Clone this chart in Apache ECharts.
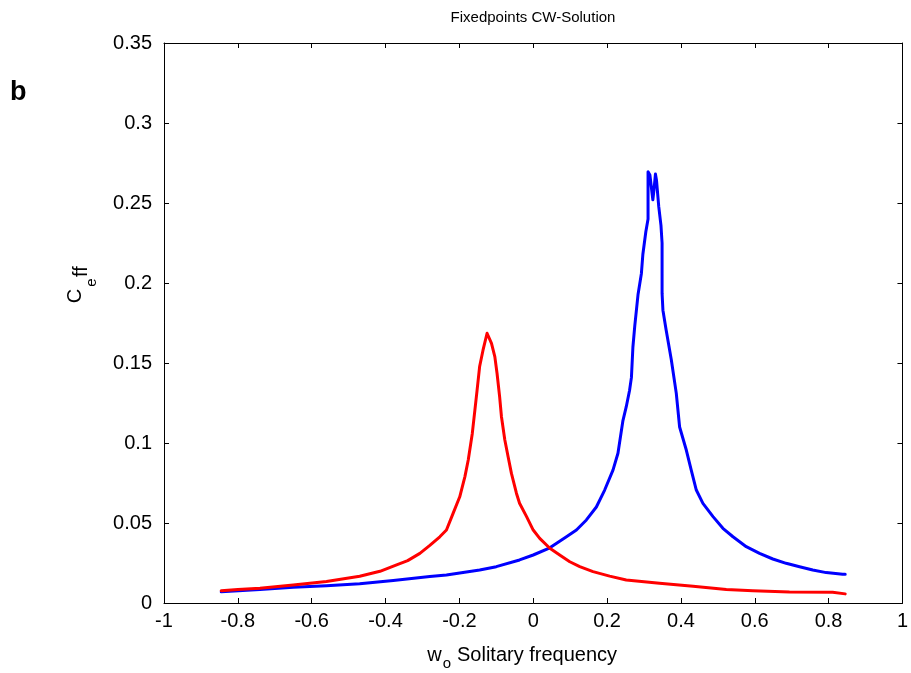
<!DOCTYPE html>
<html>
<head>
<meta charset="utf-8">
<script src="https://cdn.jsdelivr.net/npm/echarts@6/dist/echarts.min.js"></script>
<style>
html,body{margin:0;padding:0;background:#fff;}
#chart{width:911px;height:673px;}
</style>
</head>
<body>
<div id="chart"></div>
<script>
// ---- data ----
var xTickLabels = ['-1','-0.8','-0.6','-0.4','-0.2','0','0.2','0.4','0.6','0.8','1'];
var yTickLabels = ['0','0.05','0.1','0.15','0.2','0.25','0.3','0.35'];

var blueX = [-0.845,-0.74,-0.65,-0.56,-0.47,-0.379,-0.28,-0.235,-0.145,-0.100,-0.037,0.0,0.045,0.09,0.117,0.144,0.171,0.1935,0.216,0.2295,0.243,0.252,0.261,0.266,0.270,0.275,0.284,0.293,0.297,0.305,0.311,0.311,0.316,0.324,0.327,0.331,0.334,0.340,0.346,0.349,0.349,0.3513,0.360,0.374,0.3875,0.3965,0.4146,0.428,0.4417,0.4596,0.487,0.5137,0.541,0.577,0.613,0.649,0.685,0.7213,0.757,0.7935,0.838,0.845];
var blueY = [0.007,0.0085,0.0098,0.0108,0.012,0.014,0.0165,0.0175,0.0206,0.0227,0.0269,0.030,0.0345,0.0414,0.0456,0.0519,0.060,0.0706,0.083,0.0936,0.114,0.1227,0.133,0.141,0.160,0.173,0.193,0.206,0.218,0.232,0.240,0.2696,0.2675,0.252,0.258,0.2681,0.264,0.2477,0.236,0.225,0.1935,0.183,0.1706,0.152,0.131,0.110,0.0956,0.083,0.0706,0.0623,0.054,0.0467,0.0414,0.0352,0.031,0.0275,0.0248,0.0227,0.0206,0.019,0.0179,0.0179];

var redX = [-0.845,-0.80,-0.74,-0.65,-0.56,-0.47,-0.415,-0.37,-0.34,-0.307,-0.28,-0.253,-0.235,-0.217,-0.199,-0.185,-0.176,-0.165,-0.158,-0.152,-0.145,-0.136,-0.125,-0.113,-0.104,-0.098,-0.091,-0.086,-0.077,-0.068,-0.059,-0.0455,-0.037,-0.018,0.0,0.0176,0.045,0.0717,0.099,0.126,0.162,0.207,0.252,0.342,0.433,0.523,0.595,0.694,0.811,0.845];
var redY = [0.0077,0.0085,0.0092,0.0113,0.0135,0.0167,0.0198,0.0238,0.0265,0.031,0.036,0.0414,0.0456,0.056,0.0664,0.079,0.0894,0.106,0.1206,0.133,0.148,0.158,0.1686,0.1623,0.154,0.1436,0.129,0.1164,0.102,0.0914,0.081,0.0686,0.0623,0.054,0.0456,0.0404,0.0342,0.030,0.0258,0.0227,0.0196,0.0168,0.0144,0.0123,0.0104,0.0085,0.0077,0.0068,0.0067,0.0057];

function pairs(xs, ys){ return xs.map(function(x,i){ return [x, ys[i]]; }); }

var FONT = 'Liberation Sans, Arial, Helvetica, sans-serif';
var chart = echarts.init(document.getElementById('chart'), null, {renderer:'canvas'});

var axisCommon = {
  type:'value',
  axisLine:{show:true, onZero:false, lineStyle:{color:'#000', width:1}},
  axisTick:{show:true, inside:true, length:5, lineStyle:{color:'#000', width:1}},
  splitLine:{show:false}
};

var option = {
  backgroundColor:'#fff',
  animation:false,
  grid:{left:164, right:8, top:43, bottom:70, containLabel:false},
  xAxis:[
    Object.assign({}, axisCommon, {
      position:'bottom', min:-1, max:1, interval:0.2,
      axisLabel:{show:true, color:'#000', fontSize:20, fontFamily:FONT, margin:8,
        formatter:function(v){ return xTickLabels[Math.round((v+1)/0.2)]; }}
    }),
    Object.assign({}, axisCommon, {
      position:'top', min:-1, max:1, interval:0.2, axisLabel:{show:false}
    })
  ],
  yAxis:[
    Object.assign({}, axisCommon, {
      position:'left', min:0, max:0.35, interval:0.05,
      axisLabel:{show:true, color:'#000', fontSize:20, fontFamily:FONT, margin:12,
        formatter:function(v){ return yTickLabels[Math.round(v/0.05)]; }}
    }),
    Object.assign({}, axisCommon, {
      position:'right', min:0, max:0.35, interval:0.05, axisLabel:{show:false}
    })
  ],
  series:[
    {type:'line', xAxisIndex:0, yAxisIndex:0, data:pairs(blueX, blueY), showSymbol:false, symbol:'none',
     lineStyle:{color:'#0000ff', width:3, join:'round', cap:'round'}, itemStyle:{color:'#0000ff'}, z:2},
    {type:'line', xAxisIndex:0, yAxisIndex:0, data:pairs(redX, redY), showSymbol:false, symbol:'none',
     lineStyle:{color:'#ff0000', width:3, join:'round', cap:'round'}, itemStyle:{color:'#ff0000'}, z:3}
  ],
  graphic:[
    {type:'text', x:533, y:18, style:{text:'Fixedpoints CW-Solution', font:'15px '+FONT, fill:'#000', textAlign:'center', textVerticalAlign:'middle'}},
    {type:'text', x:10, y:93, style:{text:'b', font:'bold 27px '+FONT, fill:'#000', textAlign:'left', textVerticalAlign:'middle'}},
    {type:'text', x:434.5, y:655, style:{text:'w', font:'20px '+FONT, fill:'#000', textAlign:'center', textVerticalAlign:'middle'}},
    {type:'text', x:447, y:664, style:{text:'o', font:'15px '+FONT, fill:'#000', textAlign:'center', textVerticalAlign:'middle'}},
    {type:'text', x:457, y:655, style:{text:'Solitary frequency', font:'20px '+FONT, fill:'#000', textAlign:'left', textVerticalAlign:'middle'}},
    {type:'text', x:75, y:296, rotation:Math.PI/2, style:{text:'C', font:'20px '+FONT, fill:'#000', textAlign:'center', textVerticalAlign:'middle'}},
    {type:'text', x:92, y:282.5, rotation:Math.PI/2, style:{text:'e', font:'15px '+FONT, fill:'#000', textAlign:'center', textVerticalAlign:'middle'}},
    {type:'text', x:81, y:271.5, rotation:Math.PI/2, style:{text:'ff', font:'20px '+FONT, fill:'#000', textAlign:'center', textVerticalAlign:'middle'}}
  ]
};
chart.setOption(option);
</script>
</body>
</html>
